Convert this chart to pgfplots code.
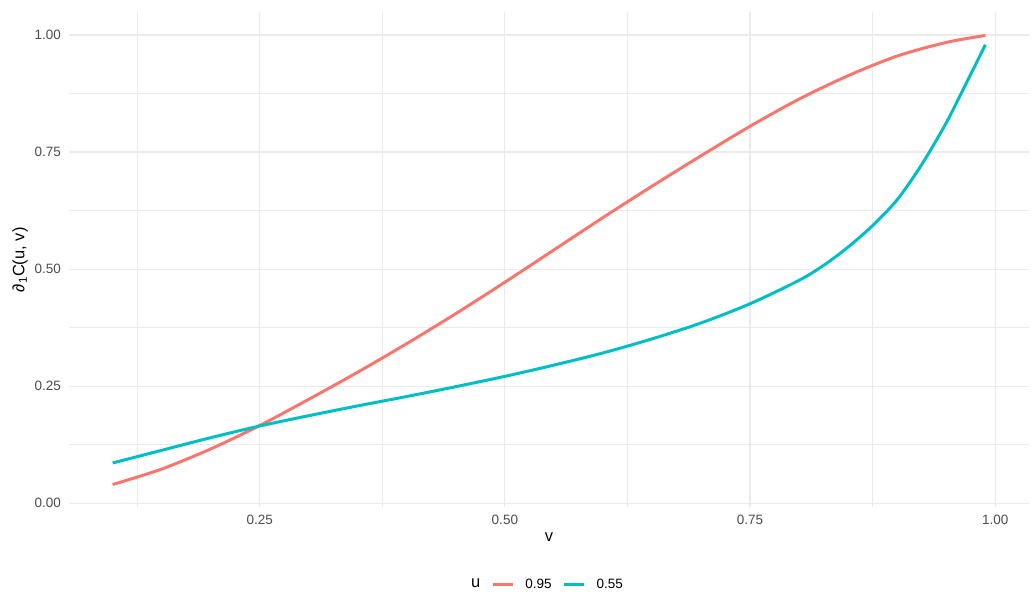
\documentclass[border=0pt]{standalone}
\usepackage{pgfplots}
\usepackage{pgfplotstable}
\pgfplotsset{compat=1.18}
\usepackage{fontspec}
\setmainfont{Liberation Sans}
\definecolor{cred}{HTML}{F8766D}
\definecolor{cteal}{HTML}{00BFC4}
\definecolor{gridc}{HTML}{EBEBEB}
\definecolor{tickc}{HTML}{4D4D4D}

\pgfplotstableread{
x y
0.10 0.040
0.15 0.073
0.20 0.116
0.25 0.166
0.30 0.222
0.35 0.280
0.40 0.341
0.45 0.405
0.50 0.472
0.55 0.541
0.60 0.610
0.65 0.677
0.70 0.742
0.75 0.805
0.80 0.863
0.85 0.913
0.90 0.955
0.95 0.984
0.99 0.999
}\redtab

\pgfplotstableread{
x y
0.10 0.086
0.15 0.113
0.20 0.140
0.25 0.165
0.30 0.187
0.35 0.208
0.40 0.228
0.45 0.249
0.50 0.271
0.55 0.295
0.60 0.321
0.65 0.351
0.70 0.385
0.75 0.426
0.80 0.476
0.825 0.508
0.85 0.547
0.875 0.593
0.90 0.648
0.925 0.723
0.95 0.812
0.97 0.895
0.99 0.979
}\tealtab

\begin{document}
\begin{tikzpicture}[x=1pt,y=1pt]
\path[use as bounding box] (0,0) rectangle (1035,597);
\begin{axis}[
  at={(69pt,90pt)}, anchor=south west,
  width=960pt, height=494.5pt, scale only axis,
  xmin=0.0555, xmax=1.0345, ymin=-0.008, ymax=1.048,
  axis line style={draw=none},
  major tick length=0pt, minor tick length=0pt,
  xtick={0.25,0.5,0.75,1}, xticklabels={0.25,0.50,0.75,1.00},
  ytick={0,0.25,0.5,0.75,1}, yticklabels={0.00,0.25,0.50,0.75,1.00},
  minor xtick={0.125,0.375,0.625,0.875},
  minor ytick={0.125,0.375,0.625,0.875},
  grid=both,
  major grid style={draw=gridc, line width=1.1pt},
  minor grid style={draw=gridc, line width=0.6pt},
  tick label style={font=\fontsize{13.5}{16}\selectfont, text=tickc, inner sep=0pt},
  xticklabel style={anchor=north, yshift=-8pt},
  yticklabel style={anchor=east, xshift=-8pt},
  xlabel={v},
  ylabel={∂\textsubscript{1}C(u, v)},
  label style={font=\fontsize{16.5}{19}\selectfont, text=black},
  xlabel style={at={(axis description cs:0.5,0)}, anchor=north, inner sep=0pt, yshift=-26pt},
  ylabel style={at={(axis description cs:-0.0427,0.5)}, anchor=south, inner sep=0pt},
  legend columns=-1,
  legend style={draw=none, fill=none, at={(axis description cs:0.4922,-0.1558)}, anchor=center,
    font=\fontsize{13.5}{16}\selectfont, column sep=11pt, nodes={inner sep=0pt}},
  legend image code/.code={\draw[#1] (0pt,0pt) -- (20pt,0pt);},
]
\addlegendimage{empty legend}
\addlegendentry{\fontsize{16.5}{19}\selectfont u}
\addplot[cred, line width=3pt, smooth] table[x=x,y=y] {\redtab};
\addlegendentry{0.95}
\addplot[cteal, line width=3pt, smooth] table[x=x,y=y] {\tealtab};
\addlegendentry{0.55}
\end{axis}
\end{tikzpicture}
\end{document}
